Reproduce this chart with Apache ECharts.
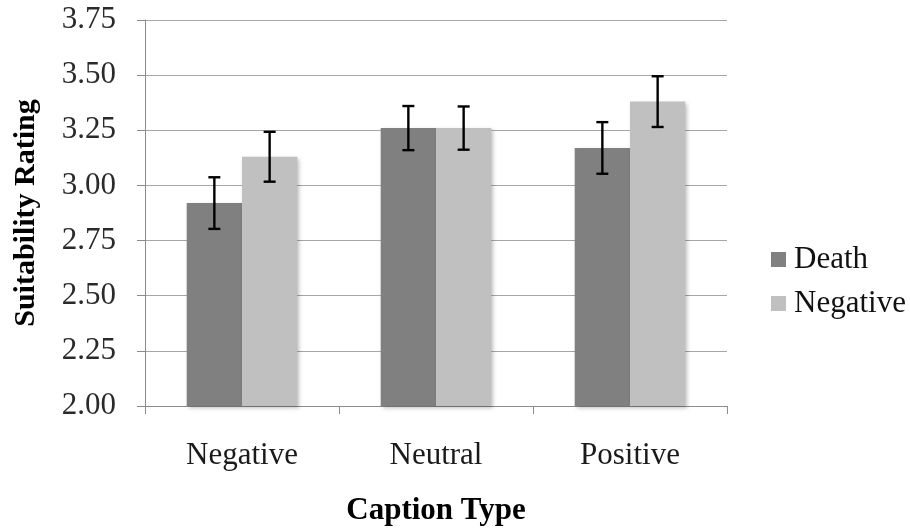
<!DOCTYPE html>
<html>
<head>
<meta charset="utf-8">
<script src="https://cdn.jsdelivr.net/npm/echarts@6/dist/echarts.min.js"></script>
<style>
html,body{margin:0;padding:0;background:#fff;}
#chart{width:910px;height:531px;}
</style>
</head>
<body>
<div id="chart"></div>
<script>
// Data
var categories = ['Negative', 'Neutral', 'Positive'];
var seriesNames = ['Death', 'Negative'];
var deathMeans = [2.92, 3.26, 3.17];
var negativeMeans = [3.13, 3.26, 3.38];
var deathErr = [0.117, 0.10, 0.117];
var negativeErr = [0.113, 0.098, 0.115];
var yTicks = { min: 2.0, max: 3.75, interval: 0.25 };

var FONT = '"Liberation Serif", "Times New Roman", serif';
var colors = ['#808080', '#c0c0c0'];
var catGap = 0.43;

function errorSeries(idx, means, errs) {
  var data = means.map(function (m, i) { return [i, m - errs[i], m + errs[i]]; });
  return {
    type: 'custom',
    name: seriesNames[idx] + ' error',
    z: 10,
    silent: true,
    data: data,
    encode: { x: 0, y: [1, 2] },
    renderItem: function (params, api) {
      var ci = api.value(0);
      var lo = api.coord([ci, api.value(1)]);
      var hi = api.coord([ci, api.value(2)]);
      var band = api.size([1, 0])[0];
      var bw = band * (1 - catGap) / 2;
      var x = lo[0] + (idx === 0 ? -bw / 2 : bw / 2);
      var cap = 6;
      var style = { stroke: '#000', lineWidth: 2.4 };
      return {
        type: 'group',
        children: [
          { type: 'line', shape: { x1: x, y1: hi[1], x2: x, y2: lo[1] }, style: style },
          { type: 'line', shape: { x1: x - cap, y1: hi[1], x2: x + cap, y2: hi[1] }, style: style },
          { type: 'line', shape: { x1: x - cap, y1: lo[1], x2: x + cap, y2: lo[1] }, style: style }
        ]
      };
    }
  };
}

var chart = echarts.init(document.getElementById('chart'), null, { renderer: 'canvas' });
chart.setOption({
  animation: false,
  backgroundColor: '#ffffff',
  textStyle: { fontFamily: FONT },
  grid: { left: 145, right: 183, top: 20, bottom: 120.5 },
  legend: {
    orient: 'vertical',
    left: 766,
    top: 239,
    itemWidth: 15,
    itemHeight: 15,
    itemGap: 13,
    icon: 'rect',
    data: seriesNames,
    textStyle: { fontFamily: FONT, fontSize: 31, color: '#111', padding: [0, 0, 0, 3] }
  },
  xAxis: {
    type: 'category',
    data: categories,
    name: 'Caption Type',
    nameLocation: 'middle',
    nameGap: 89,
    nameTextStyle: { fontFamily: FONT, fontSize: 31, fontWeight: 'bold', color: '#000' },
    axisLine: { lineStyle: { color: '#8c8c8c', width: 1 } },
    axisTick: { show: true, length: 8, inside: false, lineStyle: { color: '#8c8c8c' } },
    axisLabel: { fontFamily: FONT, fontSize: 31, color: '#1a1a1a', margin: 34 },
    splitLine: { show: false }
  },
  yAxis: {
    type: 'value',
    min: yTicks.min,
    max: yTicks.max,
    interval: yTicks.interval,
    name: 'Suitability Rating',
    nameLocation: 'middle',
    nameRotate: 90,
    nameGap: 104,
    nameTextStyle: { fontFamily: FONT, fontSize: 30, fontWeight: 'bold', color: '#000' },
    axisLine: { show: true, lineStyle: { color: '#8c8c8c', width: 1 } },
    axisTick: { show: true, length: 8, inside: false, lineStyle: { color: '#8c8c8c' } },
    axisLabel: {
      fontFamily: FONT, fontSize: 31, color: '#2a2a2a', margin: 29,
      formatter: function (v) { return v.toFixed(2); }
    },
    splitLine: { show: true, lineStyle: { color: '#a6a6a6', width: 1 } }
  },
  series: [
    {
      name: seriesNames[0], type: 'bar', data: deathMeans,
      barGap: '0%', barCategoryGap: (catGap * 100) + '%',
      itemStyle: { color: colors[0], shadowBlur: 4, shadowOffsetX: 2, shadowOffsetY: 2, shadowColor: 'rgba(0,0,0,0.25)' }
    },
    {
      name: seriesNames[1], type: 'bar', data: negativeMeans,
      barGap: '0%', barCategoryGap: (catGap * 100) + '%',
      itemStyle: { color: colors[1], shadowBlur: 4, shadowOffsetX: 2, shadowOffsetY: 2, shadowColor: 'rgba(0,0,0,0.25)' }
    },
    errorSeries(0, deathMeans, deathErr),
    errorSeries(1, negativeMeans, negativeErr)
  ]
});
</script>
</body>
</html>
